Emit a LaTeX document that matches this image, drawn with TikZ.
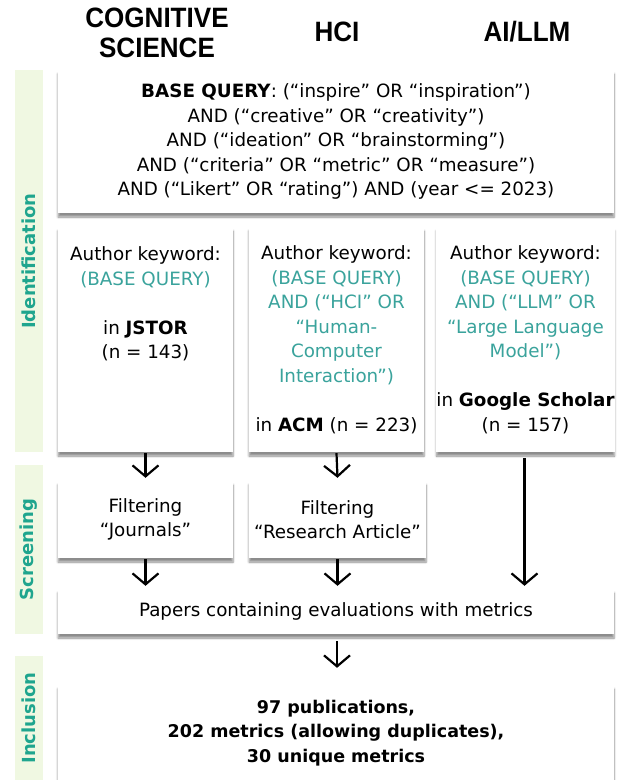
\documentclass[tikz,border=0pt]{standalone}
\usepackage{fontspec}
\setmainfont{DejaVu Sans}
\newfontfamily\headfont[FakeStretch=0.93]{Liberation Sans}
\usetikzlibrary{arrows.meta,shadows.blur}

\definecolor{bandgreen}{HTML}{F0F8E2}
\definecolor{keyteal}{HTML}{3AA39C}
\definecolor{labelteal}{HTML}{1FA58E}

\tikzset{
  panel/.style={fill=white, draw=none, align=center, inner sep=0pt,
    font=\fontsize{18.3}{24.5}\selectfont,
    blur shadow={shadow xshift=0pt, shadow yshift=-4pt, shadow blur steps=6, shadow opacity=45}},
  band/.style={fill=bandgreen, draw=none, minimum width=28pt, inner sep=0pt},
  bandlabel/.style={rotate=90, text=labelteal, font=\fontsize{18}{20}\selectfont\bfseries},
  header/.style={align=center, font=\headfont\fontsize{28}{30}\selectfont\bfseries},
  flow/.style={line width=2.2pt, -{Straight Barb[length=11pt,width=26pt,line width=2.2pt]}},
}
\newcommand{\kw}[1]{\textcolor{keyteal}{#1}}

\begin{document}
\begin{tikzpicture}[x=1pt,y=-1pt]
  \useasboundingbox (0,0) rectangle (618,780);

  % column headers
  \node[header] (hcog) at (157,33) {COGNITIVE\\SCIENCE};
  \node[header] (hhci) at (337,32) {HCI};
  \node[header] (hai) at (527,32) {AI/LLM};

  % stage bands
  \node[band, minimum height=382pt] (bident) at (29,261) {};
  \node[band, minimum height=169pt] (bscreen) at (29,549.5) {};
  \node[band, minimum height=124pt] (bincl) at (29,718) {};
  \node[bandlabel] (lident) at (bident) {Identification};
  \node[bandlabel] (lscreen) at (bscreen) {Screening};
  \node[bandlabel] (lincl) at (bincl) {Inclusion};

  % base query
  \node[panel, minimum width=556pt, minimum height=143pt] (base) at (336,141.5)
    {\textbf{BASE QUERY}: (“inspire” OR “inspiration”)\\
     AND (“creative” OR “creativity”)\\
     AND (“ideation” OR “brainstorming”)\\
     AND (“criteria” OR “metric” OR “measure”)\\
     AND (“Likert” OR “rating”) AND (year <= 2023)};

  % author keyword searches
  \node[panel, minimum width=175pt, minimum height=225pt] (jstor) at (145.5,339.5)
    {Author keyword:\\ \kw{(BASE QUERY)}\\ \mbox{}\\ in \textbf{JSTOR}\\ (n = 143)\\
     \mbox{}\\ \mbox{}\\ \mbox{}};
  \node[panel, minimum width=175pt, minimum height=225pt] (acm) at (336.5,339.5)
    {Author keyword:\\ \kw{(BASE QUERY)}\\ \kw{AND (“HCI” OR}\\ \kw{“Human-}\\
     \kw{Computer}\\ \kw{Interaction”)}\\ \mbox{}\\ in \textbf{ACM} (n = 223)};
  \node[panel, minimum width=177pt, minimum height=225pt] (scholar) at (525.5,339.5)
    {Author keyword:\\ \kw{(BASE QUERY)}\\ \kw{AND (“LLM” OR}\\ \kw{“Large Language}\\
     \kw{Model”)}\\ \mbox{}\\ in \textbf{Google Scholar}\\ (n = 157)};

  % screening
  \node[panel, minimum width=175pt, minimum height=77pt] (fjour) at (145.5,519.5)
    {Filtering\\ “Journals”};
  \node[panel, minimum width=177pt, minimum height=77pt] (fart) at (337.5,519.5)
    {Filtering\\ “Research Article”};
  \node[panel, minimum width=556pt, minimum height=45pt] (papers) at (336,611.5)
    {Papers containing evaluations with metrics};

  % inclusion
  \node[panel, minimum width=556pt, minimum height=96pt, font=\fontsize{17.5}{24.5}\selectfont\bfseries]
    (result) at (336,733)
    {97 publications,\\ 202 metrics (allowing duplicates),\\ 30 unique metrics};

  % arrows
  \draw[flow] (jstor.south) ++(0,1) -- ([yshift=3pt]fjour.north);
  \draw[flow] (acm.south) ++(0,1) -- ([yshift=3pt]fart.north);
  \draw[flow] (fjour.south) ++(0,1) -- ([yshift=3pt]fjour.south |- papers.north);
  \draw[flow] (fart.south) ++(0,1) -- ([yshift=3pt]fart.south |- papers.north);
  \draw[flow] (scholar.south) ++(-1,6) -- ([xshift=-1pt,yshift=3pt]scholar.south |- papers.north);
  \draw[flow] ([xshift=1pt]papers.south) ++(0,7) -- ([xshift=1pt,yshift=17pt]result.north);
\end{tikzpicture}
\end{document}
